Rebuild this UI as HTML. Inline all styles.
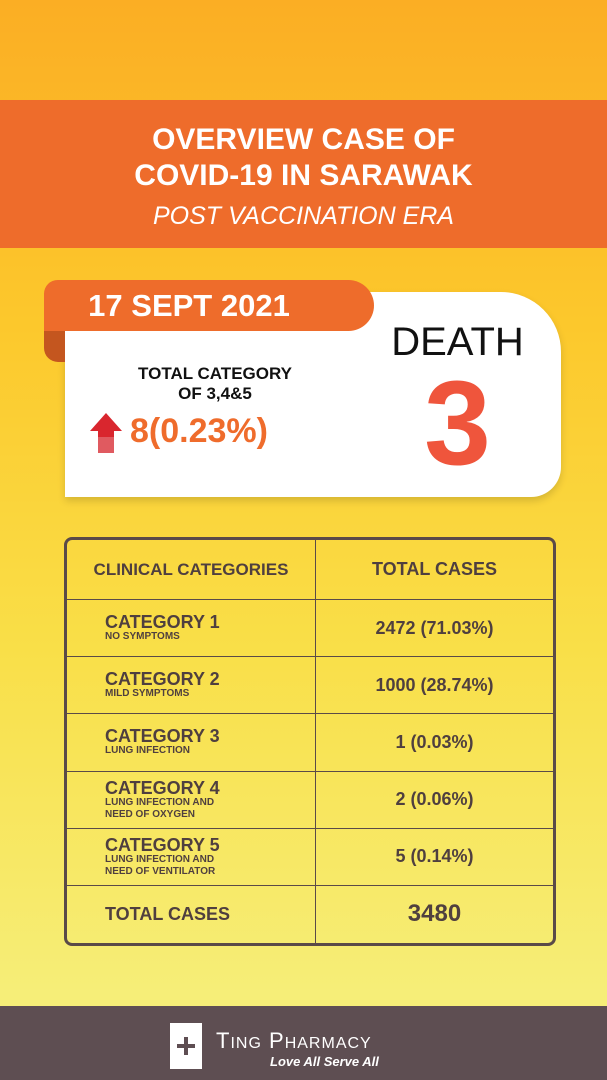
<!DOCTYPE html>
<html><head><meta charset="utf-8"><style>
*{margin:0;padding:0;box-sizing:border-box}
body{width:607px;height:1080px;overflow:hidden;font-family:"Liberation Sans",sans-serif;position:relative;background:linear-gradient(180deg,#fbae24 0%,#fcc82c 30%,#f9df48 60%,#f6ee78 92%);}
.abs{position:absolute}
.banner{left:0;top:100px;width:607px;height:148px;background:#ee6c2b;color:#fff;text-align:center}
.card{left:65px;top:292px;width:496px;height:205px;background:#fff;border-radius:0 60px 30px 0;box-shadow:0 4px 8px rgba(0,0,0,.15)}
.tab{left:44px;top:280px;width:330px;height:51px;background:#ee6c2b;border-radius:14px 26px 26px 0;color:#fff;font-size:31px;font-weight:bold;text-align:center;line-height:51px;padding-right:40px}
.fold{left:44px;top:330px;width:21px;height:32px;background:#c4561f;border-radius:0 0 0 14px}
table{position:absolute;left:64px;top:537px;width:492px;height:409px;border-collapse:separate;border-spacing:0;border:3px solid #5a4a48;border-radius:8px;color:#4f3f3f;table-layout:fixed}
td{border-right:1.5px solid #5a4a48;border-bottom:1.5px solid #5a4a48;font-weight:bold;overflow:hidden}
td:last-child{border-right:none}
tr:last-child td{border-bottom:none}
tr{height:57px}
.l{padding-left:38px;font-size:18px;line-height:18px}
.l small{display:block;font-size:10px;line-height:12px}
.r{text-align:center;font-size:18px}
.foot{left:0;top:1006px;width:607px;height:74px;background:#5e4e52}
</style></head><body>
<div class="abs banner">
 <div style="font-size:30px;font-weight:bold;line-height:36px;margin-top:22px">OVERVIEW CASE OF<br>COVID-19 IN SARAWAK</div>
 <div style="font-size:25px;font-style:italic;margin-top:8px">POST VACCINATION ERA</div>
</div>
<div class="abs card"></div>
<div class="abs fold"></div>
<div class="abs tab">17 SEPT 2021</div>
<div class="abs" style="left:100px;top:364px;width:230px;text-align:center;font-weight:bold;font-size:17px;line-height:20px;color:#111">TOTAL CATEGORY<br>OF 3,4&amp;5</div>
<svg class="abs" style="left:88px;top:413px" width="36" height="40"><polygon points="18,0 34,18 26,18 26,40 10,40 10,18 2,18" fill="#d9262e"/><rect x="10" y="24" width="16" height="16" fill="#e05a60"/></svg>
<div class="abs" style="left:130px;top:412px;font-size:34px;font-weight:bold;color:#ef6c2c">8(0.23%)</div>
<div class="abs" style="left:380px;top:320px;width:155px;text-align:center;font-size:40px;color:#111">DEATH</div>
<div class="abs" style="left:380px;top:358px;width:155px;text-align:center;font-size:120px;font-weight:bold;color:#ef553c;line-height:130px">3</div>
<table>
<colgroup><col style="width:249px"><col></colgroup>
<tr style="height:60px"><td class="r" style="font-size:17px">CLINICAL CATEGORIES</td><td class="r">TOTAL CASES</td></tr>
<tr><td class="l">CATEGORY 1<small>NO SYMPTOMS</small></td><td class="r">2472 (71.03%)</td></tr>
<tr><td class="l">CATEGORY 2<small>MILD SYMPTOMS</small></td><td class="r">1000 (28.74%)</td></tr>
<tr><td class="l">CATEGORY 3<small>LUNG INFECTION</small></td><td class="r">1 (0.03%)</td></tr>
<tr><td class="l">CATEGORY 4<small>LUNG INFECTION AND<br>NEED OF OXYGEN</small></td><td class="r">2 (0.06%)</td></tr>
<tr><td class="l">CATEGORY 5<small>LUNG INFECTION AND<br>NEED OF VENTILATOR</small></td><td class="r">5 (0.14%)</td></tr>
<tr><td class="l">TOTAL CASES</td><td class="r" style="font-size:24px">3480</td></tr>
</table>
<div class="abs foot">
 <div class="abs" style="left:170px;top:17px;width:32px;height:46px;background:#fff"><div class="abs" style="left:7px;top:21px;width:18px;height:4px;background:#5e4e52"></div><div class="abs" style="left:14px;top:14px;width:4px;height:18px;background:#5e4e52"></div></div>
 <div class="abs" style="left:216px;top:22px;color:#fff;font-size:22px;letter-spacing:1px">T<span style="font-size:16px">ING</span> P<span style="font-size:16px">HARMACY</span></div>
 <div class="abs" style="left:270px;top:48px;color:#fff;font-size:13px;font-style:italic;font-weight:bold">Love All Serve All</div>
</div>
</body></html>
